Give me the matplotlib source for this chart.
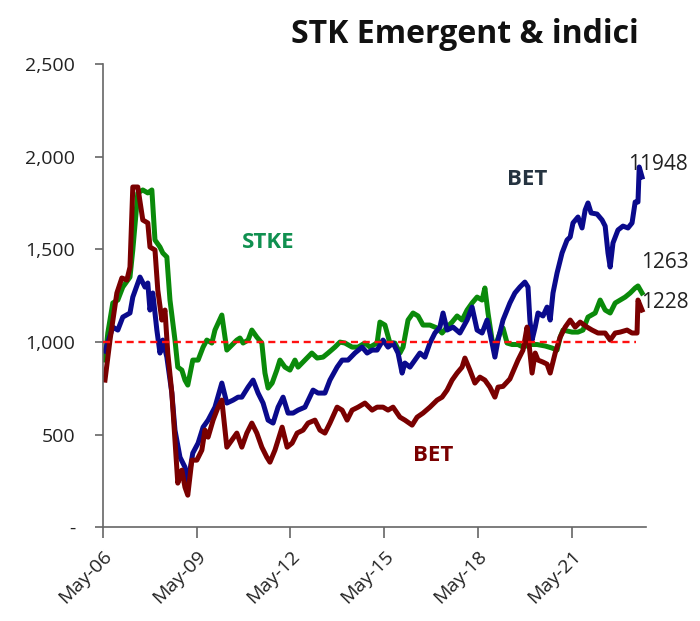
import matplotlib
matplotlib.use("Agg")
import matplotlib.pyplot as plt

# -------------------------
# Data (dates as decimal years, values indexed)
# -------------------------

bet_red_t = [
    2006.40, 2006.56, 2006.78, 2006.94, 2007.10, 2007.20, 2007.29, 2007.45,
    2007.61, 2007.77, 2007.84, 2008.00, 2008.09, 2008.22, 2008.32, 2008.41,
    2008.54, 2008.64, 2008.73, 2008.86, 2008.96, 2009.05, 2009.18, 2009.34,
    2009.50, 2009.60, 2009.70, 2009.86, 2010.02, 2010.14, 2010.30, 2010.46,
    2010.62, 2010.78, 2010.94, 2011.10, 2011.26, 2011.42, 2011.58, 2011.68,
    2011.84, 2012.07, 2012.23, 2012.39, 2012.55, 2012.74, 2012.90, 2013.12,
    2013.28, 2013.44, 2013.60, 2013.83, 2013.99, 2014.15, 2014.31, 2014.50,
    2014.72, 2014.95, 2015.11, 2015.30, 2015.46, 2015.62, 2015.84, 2016.00,
    2016.23, 2016.39, 2016.58, 2016.80, 2017.03, 2017.19, 2017.35, 2017.51,
    2017.67, 2017.83, 2017.92, 2018.08, 2018.24, 2018.40, 2018.56, 2018.72,
    2018.88, 2018.98, 2019.14, 2019.36, 2019.62, 2019.78, 2019.91, 2019.97,
    2020.07, 2020.17, 2020.26, 2020.42, 2020.55, 2020.65, 2020.81, 2020.97,
    2021.13, 2021.29, 2021.45, 2021.61, 2021.83, 2021.99, 2022.18, 2022.41,
    2022.57, 2022.73, 2022.89, 2023.11, 2023.27, 2023.43, 2023.46, 2023.59,
]
bet_red_v = [
    794, 1010, 1264, 1345, 1334, 1404, 1836, 1836,
    1658, 1642, 1512, 1496, 1280, 1118, 1172, 940,
    724, 470, 238, 308, 216, 173, 362, 362,
    416, 524, 486, 578, 648, 686, 432, 470,
    508, 432, 508, 562, 508, 432, 378, 351,
    416, 540, 432, 454, 508, 524, 562, 578,
    524, 508, 562, 648, 632, 578, 632, 648,
    670, 632, 648, 648, 632, 648, 594, 578,
    551, 594, 616, 648, 686, 702, 740, 794,
    832, 864, 913, 848, 778, 810, 794, 756,
    702, 756, 760, 800, 902, 956, 1080, 994,
    832, 940, 902, 891, 880, 832, 940, 1026,
    1080, 1118, 1080, 1107, 1080, 1064, 1048, 1048,
    1010, 1048, 1053, 1064, 1048, 1048, 1226, 1172,
]

bet_blue_t = [
    2006.40, 2006.65, 2006.81, 2006.97, 2007.20, 2007.29, 2007.52, 2007.68,
    2007.77, 2007.84, 2007.93, 2008.06, 2008.16, 2008.25, 2008.38, 2008.54,
    2008.64, 2008.80, 2008.96, 2009.05, 2009.21, 2009.38, 2009.54, 2009.70,
    2009.92, 2010.14, 2010.30, 2010.50, 2010.66, 2010.78, 2010.98, 2011.14,
    2011.30, 2011.46, 2011.62, 2011.78, 2011.94, 2012.10, 2012.26, 2012.42,
    2012.58, 2012.80, 2013.06, 2013.22, 2013.44, 2013.60, 2013.83, 2013.99,
    2014.18, 2014.40, 2014.63, 2014.79, 2014.95, 2015.11, 2015.30, 2015.46,
    2015.62, 2015.78, 2015.91, 2016.00, 2016.16, 2016.32, 2016.48, 2016.64,
    2016.80, 2016.96, 2017.12, 2017.22, 2017.35, 2017.54, 2017.76, 2017.99,
    2018.15, 2018.31, 2018.47, 2018.63, 2018.79, 2018.88, 2018.98, 2019.14,
    2019.36, 2019.52, 2019.68, 2019.84, 2019.94, 2020.00, 2020.07, 2020.17,
    2020.26, 2020.42, 2020.55, 2020.65, 2020.74, 2020.87, 2021.03, 2021.19,
    2021.29, 2021.38, 2021.54, 2021.67, 2021.77, 2021.86, 2021.96, 2022.15,
    2022.31, 2022.41, 2022.50, 2022.57, 2022.66, 2022.82, 2022.98, 2023.14,
    2023.27, 2023.37, 2023.46, 2023.50, 2023.59,
]
bet_blue_v = [
    950, 1080, 1064, 1134, 1156, 1242, 1350, 1296,
    1318, 1172, 1264, 1064, 940, 1010, 918, 724,
    524, 378, 324, 238, 400, 454, 540, 578,
    648, 778, 670, 686, 702, 702, 756, 794,
    724, 670, 578, 562, 648, 702, 616, 616,
    632, 648, 740, 724, 724, 794, 864, 902,
    902, 940, 972, 940, 956, 956, 1010, 972,
    994, 940, 832, 886, 864, 902, 940, 918,
    994, 1048, 1080, 1156, 1064, 1080, 1048, 1118,
    1188, 1064, 1048, 1118, 994, 918, 1010, 1118,
    1210, 1264, 1296, 1323, 1296, 1118, 1010, 1080,
    1156, 1140, 1188, 1118, 1264, 1372, 1480, 1550,
    1566, 1642, 1674, 1615, 1712, 1750, 1696, 1690,
    1658, 1625, 1480, 1404, 1534, 1604, 1625, 1615,
    1642, 1755, 1755, 1944, 1890,
]

stke_t = [
    2006.40, 2006.49, 2006.65, 2006.81, 2006.97, 2007.20, 2007.29, 2007.45,
    2007.61, 2007.77, 2007.90, 2008.00, 2008.16, 2008.25, 2008.38, 2008.48,
    2008.64, 2008.73, 2008.86, 2008.96, 2009.05, 2009.21, 2009.38, 2009.54,
    2009.66, 2009.82, 2009.92, 2010.14, 2010.30, 2010.46, 2010.62, 2010.72,
    2010.82, 2010.98, 2011.10, 2011.26, 2011.42, 2011.52, 2011.62, 2011.75,
    2011.90, 2012.00, 2012.16, 2012.32, 2012.48, 2012.58, 2012.80, 2013.02,
    2013.19, 2013.38, 2013.54, 2013.76, 2013.92, 2014.08, 2014.31, 2014.50,
    2014.72, 2014.88, 2015.11, 2015.20, 2015.36, 2015.52, 2015.68, 2015.84,
    2015.94, 2016.10, 2016.26, 2016.42, 2016.58, 2016.80, 2017.03, 2017.19,
    2017.35, 2017.51, 2017.67, 2017.83, 2017.99, 2018.15, 2018.31, 2018.47,
    2018.56, 2018.66, 2018.79, 2018.88, 2019.04, 2019.14, 2019.27, 2019.43,
    2019.62, 2019.78, 2020.00, 2020.23, 2020.49, 2020.71, 2020.87, 2020.97,
    2021.06, 2021.35, 2021.54, 2021.70, 2021.86, 2022.09, 2022.25, 2022.41,
    2022.57, 2022.73, 2022.89, 2023.05, 2023.21, 2023.37, 2023.46, 2023.59,
]
stke_v = [
    902, 1048, 1210, 1226, 1296, 1350, 1496, 1804,
    1820, 1804, 1820, 1550, 1512, 1480, 1458, 1226,
    1010, 864, 848, 794, 767, 902, 902, 972,
    1010, 994, 1064, 1145, 956, 983, 1010, 1021,
    994, 1010, 1064, 1026, 994, 832, 751, 778,
    848, 902, 864, 848, 902, 864, 902, 940,
    913, 918, 940, 972, 999, 994, 972, 972,
    994, 972, 994, 1107, 1091, 994, 994, 940,
    972, 1118, 1156, 1140, 1091, 1091, 1075, 1048,
    1080, 1107, 1140, 1118, 1172, 1210, 1242, 1226,
    1291, 1156, 1010, 972, 1048, 1075, 994, 986,
    986, 972, 986, 986, 978, 967, 956, 1026,
    1064, 1053, 1053, 1064, 1134, 1156, 1226, 1172,
    1156, 1210, 1226, 1242, 1264, 1291, 1302, 1264,
]

base_level = 1000
base_start, base_end = 2006.33, 2023.40

x_ticks = [2006.333, 2009.333, 2012.333, 2015.333, 2018.333, 2021.333]
x_labels = ["May-06", "May-09", "May-12", "May-15", "May-18", "May-21"]
y_ticks = [0, 500, 1000, 1500, 2000, 2500]
y_labels = ["-", "500", "1,000", "1,500", "2,000", "2,500"]

# -------------------------
# Plot
# -------------------------

plt.rcParams["font.family"] = ["Open Sans", "DejaVu Sans"]

fig = plt.figure(figsize=(7.0, 6.21), dpi=100)
ax = fig.add_axes([0.147, 0.151, 0.776, 0.746])

ax.plot(stke_t, stke_v, color="#0a8a0a", lw=3.6, solid_joinstyle="round")
ax.plot(bet_blue_t, bet_blue_v, color="#0a0a8c", lw=3.6, solid_joinstyle="round")
ax.plot(bet_red_t, bet_red_v, color="#7a0000", lw=3.6, solid_joinstyle="round")
ax.hlines(base_level, base_start, base_end, colors="#ff1010",
          linestyles=(0, (3, 2)), lw=1.7, zorder=5)

ax.set_xlim(2006.333, 2023.72)
ax.set_ylim(0, 2500)
ax.set_xticks(x_ticks)
ax.set_xticklabels(x_labels, rotation=45, ha="right", rotation_mode="anchor",
                   fontsize=14, color="#222222")
ax.set_yticks(y_ticks)
ax.set_yticklabels(y_labels, fontsize=14, color="#222222")

for s in ["top", "right"]:
    ax.spines[s].set_visible(False)
for s in ["left", "bottom"]:
    ax.spines[s].set_color("#666666")
    ax.spines[s].set_linewidth(1.2)
ax.tick_params(axis="y", direction="out", length=6, width=1.2, color="#666666", pad=14)
ax.tick_params(axis="x", direction="out", length=8, width=1.2, color="#666666", pad=6)

fig.text(0.664, 0.944, "STK Emergent & indici", ha="center", va="center",
         fontsize=23, fontweight="bold", color="#111111")

ax.text(2019.91, 1874, "BET", ha="center", va="center", fontsize=16,
        fontweight="bold", color="#253340")
ax.text(2011.62, 1534, "STKE", ha="center", va="center", fontsize=16,
        fontweight="bold", color="#109050")
ax.text(2016.90, 389, "BET", ha="center", va="center", fontsize=16,
        fontweight="bold", color="#7a0000")

ax.text(2023.14, 1955, "11948", ha="left", va="center", fontsize=15,
        color="#222222", clip_on=False)
ax.text(2023.56, 1431, "1263", ha="left", va="center", fontsize=15,
        color="#222222", clip_on=False)
ax.text(2023.56, 1215, "1228", ha="left", va="center", fontsize=15,
        color="#222222", clip_on=False)

fig.savefig("out.png", dpi=100)
